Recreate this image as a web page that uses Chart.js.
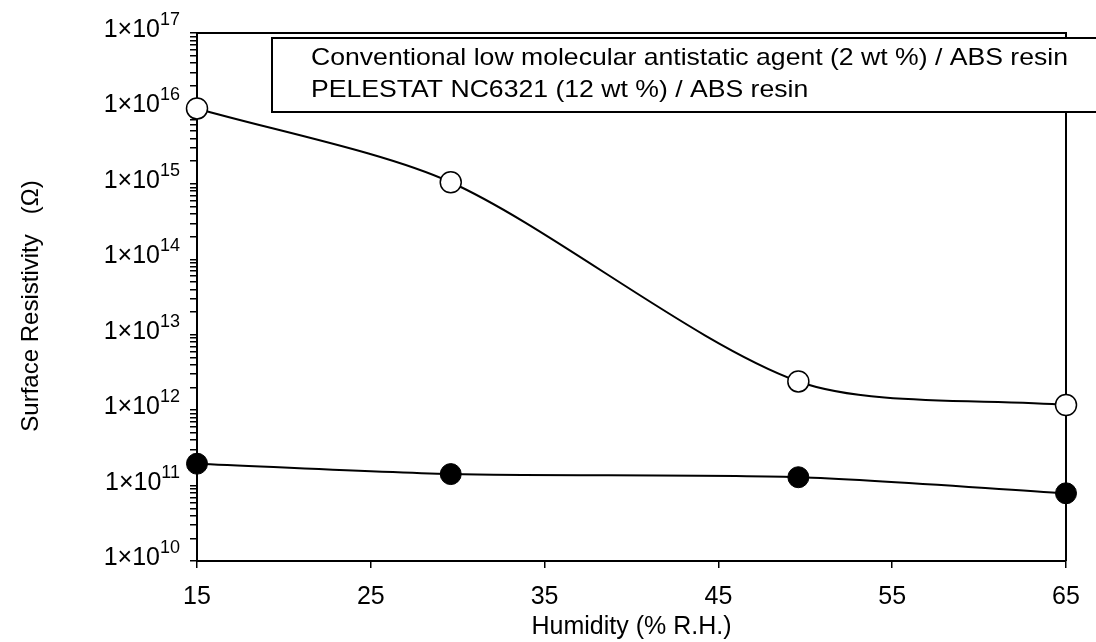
<!DOCTYPE html>
<html>
<head>
<meta charset="utf-8">
<script src="https://cdn.jsdelivr.net/npm/chart.js@4.4.1/dist/chart.umd.min.js"></script>
<style>
  html, body { margin: 0; padding: 0; background: #fff; }
</style>
</head>
<body>
<canvas id="chart" width="1096" height="642"></canvas>
<script>
// data
const humidity = [15, 29.6, 49.6, 65];
const conventional = [1.0e16, 1.05e15, 2.4e12, 1.17e12];
const pelestat = [1.95e11, 1.42e11, 1.29e11, 7.9e10];

const xTicks = [15, 25, 35, 45, 55, 65];
const yExponents = [10, 11, 12, 13, 14, 15, 16, 17];
const minorSteps = [2, 3, 4, 5, 6, 7, 8, 9];

const seriesLabels = [
  "Conventional low molecular antistatic agent (2 wt %) / ABS resin",
  "PELESTAT NC6321 (12 wt %) / ABS resin",
];
const xTitle = "Humidity (% R.H.)";
const yTitle = "Surface Resistivity   (\u03a9)";

const FONT = "'Liberation Sans', Arial, Helvetica, sans-serif";
Chart.defaults.font.family = FONT;
Chart.defaults.color = "#000";

// box around plot, legend box, y title and 1×10^n labels
const framePlugin = {
  id: "frame",
  beforeDatasetsDraw(chart) {
    const { ctx, chartArea: a } = chart;
    ctx.save();
    ctx.strokeStyle = "#000";
    ctx.lineWidth = 2;
    ctx.beginPath();
    ctx.moveTo(a.left, a.top);
    ctx.lineTo(a.right, a.top);
    ctx.lineTo(a.right, a.bottom);
    ctx.stroke();
    ctx.restore();
  },
  afterDraw(chart) {
    const { ctx } = chart;
    const y = chart.scales.y;

    // y tick labels with superscript exponent
    ctx.save();
    ctx.fillStyle = "#000";
    ctx.textBaseline = "alphabetic";
    yExponents.forEach(e => {
      const py = y.getPixelForValue(Math.pow(10, e));
      ctx.font = "18px " + FONT;
      ctx.textAlign = "right";
      const expText = String(e);
      const ew = ctx.measureText(expText).width;
      ctx.fillText(expText, 180, py - 8);
      ctx.font = "25px " + FONT;
      ctx.fillText("1\u00d710", 180 - ew, py + 4);
    });
    ctx.restore();

    // y axis title
    ctx.save();
    ctx.translate(31, 306);
    ctx.rotate(-Math.PI / 2);
    ctx.font = "24px " + FONT;
    ctx.textAlign = "center";
    ctx.textBaseline = "middle";
    ctx.fillStyle = "#000";
    ctx.fillText(yTitle, 0, 0);
    ctx.restore();

    // legend box (no markers, text only)
    ctx.save();
    ctx.fillStyle = "#fff";
    ctx.strokeStyle = "#000";
    ctx.lineWidth = 2;
    ctx.fillRect(272, 38, 840, 74);
    ctx.strokeRect(272, 38, 840, 74);
    ctx.fillStyle = "#000";
    ctx.font = "24px " + FONT;
    ctx.textAlign = "left";
    const sx = 757 / ctx.measureText(seriesLabels[0]).width;
    ctx.translate(311, 0);
    ctx.scale(sx, 1);
    ctx.fillText(seriesLabels[0], 0, 65);
    ctx.fillText(seriesLabels[1], 0, 97);
    ctx.restore();
  },
};

new Chart(document.getElementById("chart").getContext("2d"), {
  type: "line",
  data: {
    labels: humidity,
    datasets: [
      {
        label: seriesLabels[0],
        data: humidity.map((x, i) => ({ x, y: conventional[i] })),
        borderColor: "#000",
        borderWidth: 2,
        tension: 0.28,
        pointRadius: 10.5,
        pointBackgroundColor: "#fff",
        pointBorderColor: "#000",
        pointBorderWidth: 1.5,
      },
      {
        label: seriesLabels[1],
        data: humidity.map((x, i) => ({ x, y: pelestat[i] })),
        borderColor: "#000",
        borderWidth: 2,
        tension: 0.28,
        pointRadius: 10.5,
        pointBackgroundColor: "#000",
        pointBorderColor: "#000",
        pointBorderWidth: 1,
      },
    ],
  },
  options: {
    responsive: false,
    animation: false,
    clip: false,
    layout: { padding: { top: 33, right: 30, left: 0, bottom: 0 } },
    plugins: {
      legend: { display: false },
      tooltip: { enabled: false },
    },
    scales: {
      x: {
        type: "linear",
        min: 15,
        max: 65,
        afterBuildTicks: s => { s.ticks = xTicks.map(v => ({ value: v })); },
        afterFit: s => { s.height = 81; },
        ticks: { font: { size: 25 }, color: "#000", padding: 14, maxRotation: 0, autoSkip: false },
        grid: { drawOnChartArea: false, color: "#000", lineWidth: 1.5, tickLength: 7 },
        border: { color: "#000", width: 2 },
        title: { display: true, text: xTitle, font: { size: 25 }, padding: { top: 8, bottom: 0 } },
      },
      y: {
        type: "logarithmic",
        min: 1e10,
        max: 1e17,
        afterBuildTicks: s => {
          const t = [];
          yExponents.forEach(e => {
            t.push({ value: Math.pow(10, e), major: true });
            if (e < 17) minorSteps.forEach(m => t.push({ value: m * Math.pow(10, e) }));
          });
          s.ticks = t;
        },
        afterFit: s => { s.width = 197; },
        ticks: { display: false, autoSkip: false },
        grid: { drawOnChartArea: false, color: "#000", lineWidth: 1.5, tickLength: 7 },
        border: { color: "#000", width: 2 },
      },
    },
  },
  plugins: [framePlugin],
});
</script>
</body>
</html>
